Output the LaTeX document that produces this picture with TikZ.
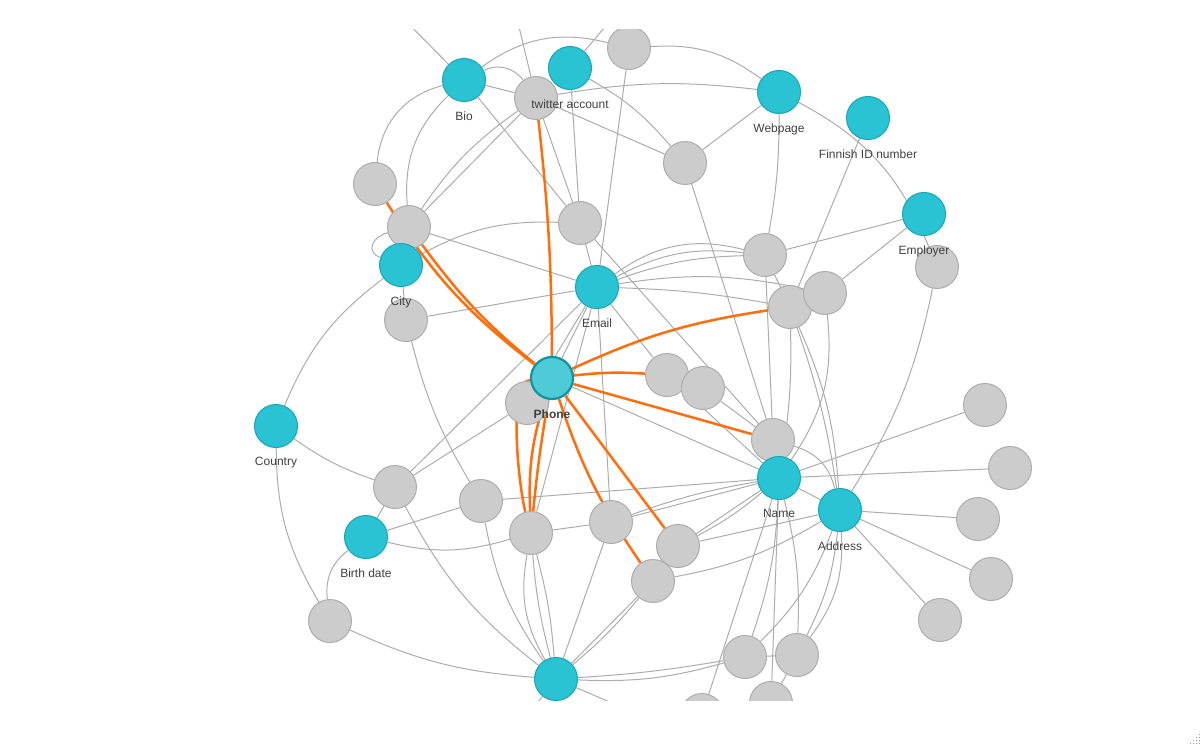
\documentclass[tikz,border=0pt]{standalone}
\usepackage{fontspec}
\setmainfont{Liberation Sans}
\usetikzlibrary{backgrounds}
\definecolor{cyanfill}{HTML}{29C3D3}
\definecolor{cyanline}{HTML}{16A6B5}
\definecolor{phonefill}{HTML}{4ECBD6}
\definecolor{phoneline}{HTML}{12939F}
\definecolor{greyfill}{HTML}{CCCCCC}
\definecolor{greyline}{HTML}{ADADAD}
\definecolor{linkgrey}{HTML}{ACACAC}
\definecolor{hitorange}{HTML}{FF6D0D}
\definecolor{labeltext}{HTML}{404040}
\definecolor{gripgrey}{HTML}{9A9A9A}

\begin{document}
\begin{tikzpicture}[x=1pt, y=-1pt, label distance=6pt,
  main/.style = {draw=cyanline, fill=cyanfill, circle, minimum size=43pt, inner sep=0pt, line width=1pt},
  other/.style = {main, draw=greyline, fill=greyfill},
  found/.style = {main, draw=phoneline, fill=phonefill, line width=2.2pt, minimum size=42pt},
  lbl/.style = {font=\fontsize{12}{14}\selectfont, text=labeltext},
  lblb/.style = {font=\bfseries\fontsize{12}{14}\selectfont, text=labeltext},
  link/.style = {draw=linkgrey, line width=1pt},
  hit/.style = {draw=hitorange, line width=2.5pt}]
\useasboundingbox (0,0) rectangle (1202,746);
\begin{scope}
\clip (0,30) rectangle (1202,700);
%\node[parameter] (nodeID) at (x,y) {};
\node[other] (1) at (629,48) {};
\node[other] (2) at (536,98) {};
\node[other] (3) at (375,184) {};
\node[other] (4) at (409,227) {};
\node[other] (5) at (580,223) {};
\node[other] (6) at (685,163) {};
\node[other] (7) at (765,255) {};
\node[other] (8) at (937,267) {};
\node[other] (9) at (790,307) {};
\node[other] (10) at (825,293) {};
\node[other] (11) at (406,320) {};
\node[other] (12) at (667,375) {};
\node[other] (13) at (703,388) {};
\node[other] (14) at (527,403) {};
\node[other] (15) at (773,440) {};
\node[other] (16) at (985,405) {};
\node[other] (17) at (1010,468) {};
\node[other] (18) at (978,519) {};
\node[other] (19) at (991,579) {};
\node[other] (20) at (940,620) {};
\node[other] (21) at (395,487) {};
\node[other] (22) at (481,501) {};
\node[other] (23) at (531,533) {};
\node[other] (24) at (611,522) {};
\node[other] (25) at (678,546) {};
\node[other] (26) at (653,581) {};
\node[other] (27) at (330,621) {};
\node[other] (28) at (745,657) {};
\node[other] (29) at (797,655) {};
\node[other] (30) at (771,703) {};
\node[other] (31) at (702,715) {};
\node[main] (bio) at (464,80) [label={[lbl]below:Bio}] {};
\node[main] (twitter) at (570,68) [label={[lbl]below:twitter account}] {};
\node[main] (web) at (779,92) [label={[lbl]below:Webpage}] {};
\node[main] (fin) at (868,118) [label={[lbl]below:Finnish ID number}] {};
\node[main] (emp) at (924,214) [label={[lbl]below:Employer}] {};
\node[main] (city) at (401,265) [label={[lbl]below:City}] {};
\node[main] (email) at (597,287) [label={[lbl]below:Email}] {};
\node[main] (country) at (276,426) [label={[lbl]below:Country}] {};
\node[main] (name) at (779,478) [label={[lbl]below:Name}] {};
\node[main] (addr) at (840,510) [label={[lbl]below:Address}] {};
\node[main] (birth) at (366,537) [label={[lbl]below:Birth date}] {};
\node[main] (b) at (556,679) {};
\node[found] (phone) at (552,378) [label={[lblb]below:Phone}] {};
\coordinate (top1) at (395,10);
\coordinate (top2) at (515,10);
\coordinate (top3) at (628,0);
\coordinate (bot1) at (520,725);
\coordinate (bot2) at (640,715);
\end{scope}

\begin{pgfonlayer}{background}
\clip (0,30) rectangle (1202,700);
\draw[link] (top1) -- (bio);
\draw[link] (top2) -- (2);
\draw[link] (top3) -- (twitter);
\draw[link] (bio) -- (2);
\draw[link] (bio) to [bend left=40] (2);
\draw[link] (bio) -- (5);
\draw[link] (bio) to [bend left=25] (1);
\draw[link] (bio) to [bend right=25] (4);
\draw[link] (bio) to [bend right=35] (3);
\draw[link] (twitter) -- (5);
\draw[link] (twitter) to [bend left=10] (6);
\draw[link] (2) -- (6);
\draw[link] (2) to [bend left=8] (web);
\draw[link] (2) -- (5);
\draw[link] (2) -- (4);
\draw[link] (2) to [bend right=10] (4);
\draw[link] (1) -- (email);
\draw[link] (1) to [bend left=20] (web);
\draw[link] (6) -- (web);
\draw[link] (6) -- (15);
\draw[link] (web) to [bend left=5] (7);
\draw[link] (web) to [bend left=20] (8);
\draw[link] (fin) -- (9);
\draw[link] (emp) -- (7);
\draw[link] (emp) -- (10);
\draw[link] (8) to [bend left=10] (addr);
\draw[link] (7) -- (15);
\draw[link] (7) -- (9);
\draw[link] (email) to [bend left=25] (7);
\draw[link] (email) to [bend left=17] (7);
\draw[link] (email) to [bend left=9] (7);
\draw[link] (email) to [bend left=10] (10);
\draw[link] (email) to [bend left=4] (9);
\draw[link] (email) -- (12);
\draw[link] (email) -- (phone);
\draw[link] (email) -- (14);
\draw[link] (email) -- (21);
\draw[link] (email) -- (23);
\draw[link] (email) -- (24);
\draw[link] (email) -- (11);
\draw[link] (email) -- (4);
\draw[link] (5) -- (email);
\draw[link] (5) to [bend right=15] (city);
\draw[link] (5) -- (15);
\draw[link] (city) -- (11);
\draw[link] (4) to [out=195,in=160,looseness=1.6] (city);
\draw[link] (country) to [bend left=15] (city);
\draw[link] (country) to [bend right=8] (21);
\draw[link] (country) to [bend right=15] (27);
\draw[link] (birth) -- (21);
\draw[link] (birth) -- (22);
\draw[link] (birth) to [bend right=15] (23);
\draw[link] (birth) to [bend right=30] (27);
\draw[link] (21) -- (14);
\draw[link] (21) to [bend right=12] (b);
\draw[link] (22) to [bend left=8] (11);
\draw[link] (22) to [bend right=12] (b);
\draw[link] (22) -- (name);
\draw[link] (23) -- (24);
\draw[link] (23) to [bend right=20] (b);
\draw[link] (23) to [bend right=5] (b);
\draw[link] (23) to [bend left=5] (b);
\draw[link] (24) -- (b);
\draw[link] (24) -- (name);
\draw[link] (24) to [bend left=5] (name);
\draw[link] (25) -- (name);
\draw[link] (25) to [bend right=6] (name);
\draw[link] (25) -- (addr);
\draw[link] (26) to [bend right=10] (addr);
\draw[link] (26) -- (b);
\draw[link] (26) to [bend left=5] (b);
\draw[link] (b) to [bend right=3] (28);
\draw[link] (b) to [bend right=9] (28);
\draw[link] (27) to [bend right=10] (b);
\draw[link] (b) -- (bot1);
\draw[link] (b) -- (bot2);
\draw[link] (name) -- (16);
\draw[link] (name) -- (17);
\draw[link] (name) -- (addr);
\draw[link] (addr) -- (18);
\draw[link] (addr) -- (19);
\draw[link] (addr) -- (20);
\draw[link] (phone) -- (name);
\draw[link] (name) -- (31);
\draw[link] (name) to [bend left=8] (28);
\draw[link] (name) -- (30);
\draw[link] (name) to [bend left=8] (29);
\draw[link] (addr) to [bend left=12] (28);
\draw[link] (addr) to [bend left=10] (29);
\draw[link] (addr) to [bend left=20] (29);
\draw[link] (28) -- (29);
\draw[link] (29) -- (30);
\draw[link] (15) to [bend left=30] (addr);
\draw[link] (9) to [bend left=5] (name);
\draw[link] (9) to [bend left=5] (addr);
\draw[link] (9) to [bend left=10] (addr);
\draw[link] (10) to [bend left=20] (name);
\draw[link] (13) -- (15);
\draw[link] (12) -- (name);
% found links
\draw[hit] (phone) to [bend right=3] (2);
\draw[hit] (phone) to [bend left=10] (3);
\draw[hit] (phone) to [bend left=7] (4);
\draw[hit] (phone) to [bend left=8] (9);
\draw[hit] (phone) to [bend left=5] (12);
\draw[hit] (phone) -- (15);
\draw[hit] (phone) -- (25);
\draw[hit] (phone) to [bend right=8] (26);
\draw[hit] (phone) to [out=185,in=105,looseness=0.45] (23);
\draw[hit] (phone) to [bend right=10] (23);
\draw[hit] (phone) to [bend right=2] (23);
\end{pgfonlayer}

% resize grip
\foreach \r in {0,...,3}
  \foreach \c in {0,...,\r}
    \fill[gripgrey] (1198.5-3*\c,733.5+3*\r) rectangle ++(1.4,1.4);
\end{tikzpicture}
\end{document}
